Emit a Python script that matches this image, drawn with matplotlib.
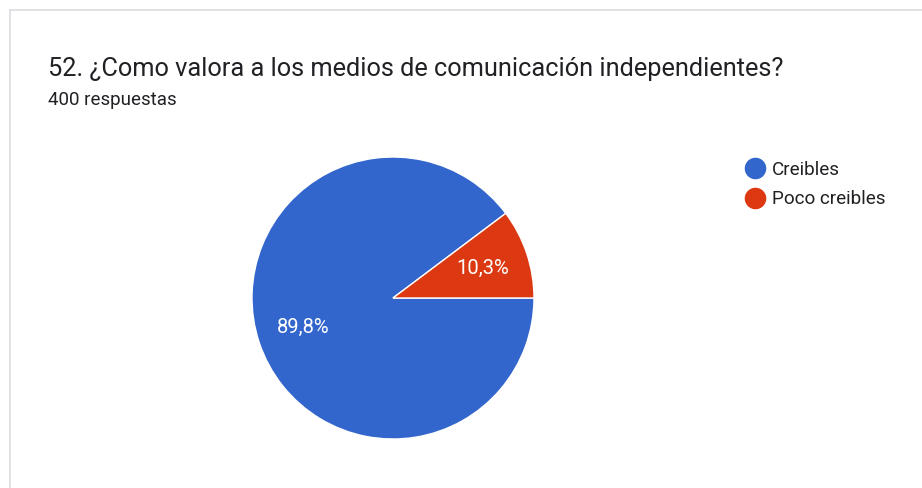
import matplotlib.pyplot as plt
from matplotlib.lines import Line2D

# datos (400 respuestas)
categorias = ['Creibles', 'Poco creibles']
respuestas = [359, 41]
colores = ['#3366cc', '#dc3912']
titulo = '52. ¿Como valora a los medios de comunicación independientes?'
subtitulo = '400 respuestas'

plt.rcParams['font.family'] = ['Roboto', 'DejaVu Sans']

W, H = 922, 488
fig = plt.figure(figsize=(W / 100, H / 100), dpi=100)
fig.patch.set_facecolor('white')

# borde de la tarjeta (arriba e izquierda)
fig.add_artist(Line2D([10 / W, 1], [1 - 10 / H, 1 - 10 / H], color='#dadce0', lw=1.2))
fig.add_artist(Line2D([10 / W, 10 / W], [0, 1 - 10 / H], color='#dadce0', lw=1.2))

fig.text(48 / W, 1 - 76 / H, titulo, fontsize=18.3, color='#202124')
fig.text(48 / W, 1 - 105 / H, subtitulo, fontsize=13.5, color='#202124')

# pie
cx, cy, r = 393, 298, 141
ax = fig.add_axes([(cx - r) / W, (H - cy - r) / H, 2 * r / W, 2 * r / H])
angulo_rojo = respuestas[1] / sum(respuestas) * 360


def fmt(p):
    # redondeo hacia arriba como Google Forms
    return f'{p + 0.001:.1f}%'.replace('.', ',')


wedges, _, autotexts = ax.pie(respuestas, colors=colores, startangle=angulo_rojo,
                              autopct=fmt, pctdistance=0.67, radius=1,
                              wedgeprops=dict(edgecolor='white', linewidth=1))
for t in autotexts:
    t.set_color('white')
    t.set_fontsize(14.5)
ax.set_xlim(-1, 1)
ax.set_ylim(-1, 1)
ax.set_aspect('equal')
ax.axis('off')

handles = [Line2D([], [], marker='o', linestyle='', markersize=14.5,
                  markerfacecolor=c, markeredgecolor=c) for c in colores]
fig.legend(handles, categorias, loc='upper left', bbox_to_anchor=(727 / W, 1 - 144 / H),
           frameon=False, fontsize=13.6, handletextpad=0.3, labelspacing=0.6,
           handlelength=1.2, labelcolor='#202124')

plt.savefig('out.png', dpi=100)
